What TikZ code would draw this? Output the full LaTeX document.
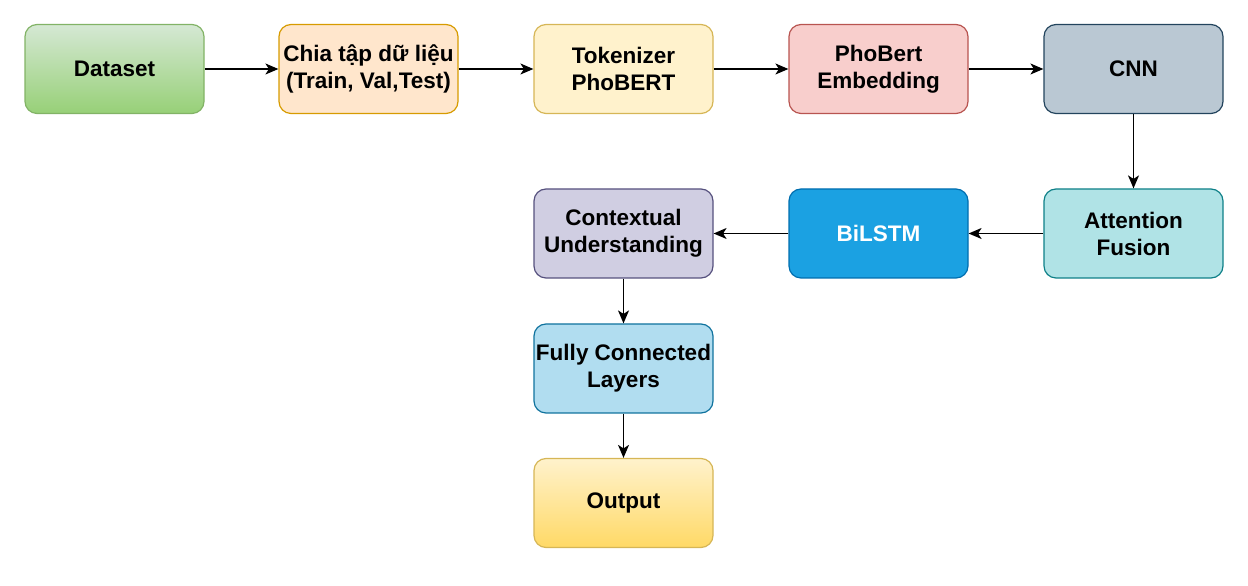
\documentclass[tikz,border=0pt]{standalone}
\usepackage{fontspec}
\setmainfont{Liberation Sans}
\usetikzlibrary{arrows.meta}

\definecolor{greenTop}{HTML}{D5E8D4}
\definecolor{greenBot}{HTML}{97D077}
\definecolor{greenLine}{HTML}{82B366}
\definecolor{orangeFill}{HTML}{FFE6CC}
\definecolor{orangeLine}{HTML}{D79B00}
\definecolor{yellowFill}{HTML}{FFF2CC}
\definecolor{yellowBot}{HTML}{FFD966}
\definecolor{yellowLine}{HTML}{D6B656}
\definecolor{redFill}{HTML}{F8CECC}
\definecolor{redLine}{HTML}{B85450}
\definecolor{greyFill}{HTML}{BAC8D3}
\definecolor{greyLine}{HTML}{23445D}
\definecolor{tealFill}{HTML}{B0E3E6}
\definecolor{tealLine}{HTML}{0E8088}
\definecolor{blueFill}{HTML}{1BA1E2}
\definecolor{blueLine}{HTML}{006EAF}
\definecolor{purpleFill}{HTML}{D0CEE2}
\definecolor{purpleLine}{HTML}{56517E}
\definecolor{skyFill}{HTML}{B1DDF0}
\definecolor{skyLine}{HTML}{10739E}

\tikzset{
  block/.style={draw, line width=1.2pt, rounded corners=12pt,
    minimum width=179pt, minimum height=89pt, inner sep=1pt,
    align=center, font=\fontsize{22.5}{27}\selectfont\bfseries},
  flow/.style={-{Stealth[length=13pt,width=11pt,inset=3.5pt]}, line width=1.3pt}
}

\begin{document}
\begin{tikzpicture}[x=1pt,y=1pt]
  \useasboundingbox (0,0) rectangle (1248,586);

  % top row
  \node[block, draw=greenLine, top color=greenTop, bottom color=greenBot] (dataset) at (114.5,517) {Dataset};
  \node[block, draw=orangeLine, fill=orangeFill] (split) at (368.5,517) {Chia tập dữ liệu\\(Train, Val,Test)};
  \node[block, draw=yellowLine, fill=yellowFill] (token) at (623.5,517) {Tokenizer\\PhoBERT};
  \node[block, draw=redLine, fill=redFill] (embed) at (878.5,517) {PhoBert\\Embedding};
  \node[block, draw=greyLine, fill=greyFill] (cnn) at (1133.5,517) {CNN};

  % second row
  \node[block, draw=tealLine, fill=tealFill] (attn) at (1133.5,352.5) {Attention\\Fusion};
  \node[block, draw=blueLine, fill=blueFill, text=white] (bilstm) at (878.5,352.5) {BiLSTM};
  \node[block, draw=purpleLine, fill=purpleFill] (context) at (623.5,352.5) {Contextual\\Understanding};

  % column down
  \node[block, draw=skyLine, fill=skyFill] (fc) at (623.5,217.5) {Fully Connected\\Layers};
  \node[block, draw=yellowLine, top color=yellowFill, bottom color=yellowBot] (output) at (623.5,83) {Output};

  \draw[flow] (dataset) -- (split);
  \draw[flow] (split) -- (token);
  \draw[flow] (token) -- (embed);
  \draw[flow] (embed) -- (cnn);
  \draw[flow] (cnn) -- (attn);
  \draw[flow] (attn) -- (bilstm);
  \draw[flow] (bilstm) -- (context);
  \draw[flow] (context) -- (fc);
  \draw[flow] (fc) -- (output);

\end{tikzpicture}
\end{document}
